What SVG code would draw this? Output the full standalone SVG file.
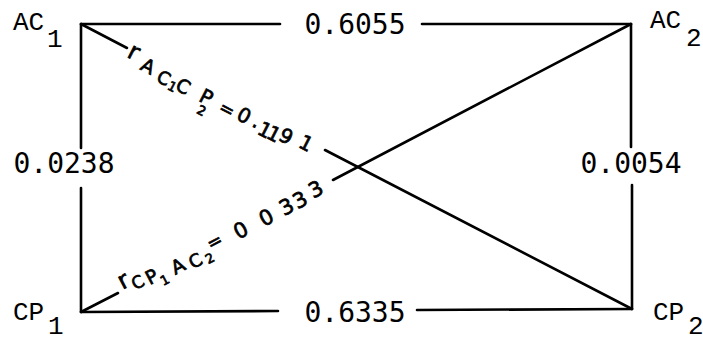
<svg xmlns="http://www.w3.org/2000/svg" width="703" height="342" viewBox="0 0 703 342">
<style>
.edge{stroke:#000;stroke-width:2.6;stroke-linecap:round;fill:none}
.node{font-family:"Liberation Mono","Courier New",monospace;font-size:26px;fill:#000}
.num{font-family:"DejaVu Sans Mono","Liberation Mono",monospace;font-size:28px;fill:#000;text-anchor:middle}
.hand{font-family:"DejaVu Sans","Liberation Sans",sans-serif;fill:#000;stroke:#000;stroke-width:0.7;text-anchor:middle}
</style>
<rect width="703" height="342" fill="#fff"/>
<g id="connectors">
  <line class="edge" x1="81" y1="24" x2="280" y2="24"/>
  <line class="edge" x1="422" y1="24" x2="631" y2="24"/>
  <line class="edge" x1="81" y1="312" x2="278" y2="311"/>
  <line class="edge" x1="417" y1="310" x2="632" y2="309"/>
  <line class="edge" x1="81" y1="24" x2="81" y2="148"/>
  <line class="edge" x1="81" y1="188" x2="81" y2="312"/>
  <line class="edge" x1="631" y1="24" x2="631" y2="147"/>
  <line class="edge" x1="632" y1="185" x2="632" y2="309"/>
  <line class="edge" x1="81" y1="24" x2="127" y2="48"/>
  <line class="edge" x1="325" y1="150" x2="632" y2="309"/>
  <line class="edge" x1="81" y1="312" x2="118" y2="293"/>
  <line class="edge" x1="333" y1="180" x2="631" y2="24"/>
  <text class="num" x="355" y="34">0.6055</text>
  <text class="num" x="355" y="322">0.6335</text>
  <text class="num" x="64" y="173">0.0238</text>
  <text class="num" x="631" y="173">0.0054</text>
  <text class="hand" transform="translate(127,48) rotate(27.35)"><tspan x="8" y="8" font-size="24">r</tspan><tspan x="27" y="13" font-size="19">A</tspan><tspan x="46.5" y="16" font-size="18">C</tspan><tspan x="58" y="18" font-size="13">1</tspan><tspan x="67.5" y="15" font-size="19">C</tspan><tspan x="93" y="14" font-size="20">P</tspan><tspan x="95" y="26" font-size="13">2</tspan><tspan x="117" y="14.5" font-size="18">=</tspan><tspan x="135" y="13" font-size="20">0</tspan><tspan x="149" y="12" font-size="20">.</tspan><tspan x="160" y="16.4" font-size="20">1</tspan><tspan x="170" y="15.8" font-size="20">1</tspan><tspan x="182" y="12.3" font-size="20">9</tspan><tspan x="203" y="9.3" font-size="20">1</tspan></text>
  <text class="hand" transform="translate(81,312) rotate(-27.64)"><tspan x="52" y="-0.5" font-size="24">r</tspan><tspan x="64" y="5.8" font-size="17">C</tspan><tspan x="79" y="8.3" font-size="19">P</tspan><tspan x="89" y="15" font-size="13">1</tspan><tspan x="107" y="11" font-size="19">A</tspan><tspan x="125" y="14" font-size="18">C</tspan><tspan x="139" y="16.8" font-size="13">2</tspan><tspan x="151" y="5.7" font-size="18">=</tspan><tspan x="179.5" y="8.8" font-size="21">0</tspan><tspan x="208" y="9.5" font-size="21">0</tspan><tspan x="231" y="9.4" font-size="21">3</tspan><tspan x="246" y="9.6" font-size="21">3</tspan><tspan x="265" y="7.4" font-size="21">3</tspan></text>
</g>
<g id="AC1"><text class="node" x="13" y="30">AC<tspan x="47" y="47">1</tspan></text></g>
<g id="AC2"><text class="node" x="650" y="28">AC<tspan x="686" y="46">2</tspan></text></g>
<g id="CP1"><text class="node" x="13" y="320">CP<tspan x="48" y="334">1</tspan></text></g>
<g id="CP2"><text class="node" x="653" y="320">CP<tspan x="688" y="334">2</tspan></text></g>
</svg>
